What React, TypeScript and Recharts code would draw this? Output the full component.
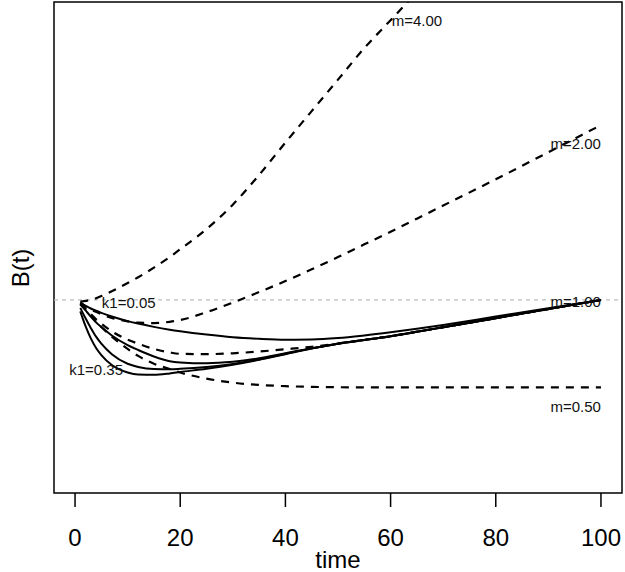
import { LineChart, Line, XAxis, YAxis, ReferenceLine, ReferenceArea, ReferenceDot } from "recharts";

const times = [1, 2, 3, 4, 5, 7, 10, 12, 15, 18, 20, 25, 30, 35, 40, 45, 50, 55, 60, 65, 70, 80, 90, 100];

// solid curves, m = 1, different k1
const k1_005 = [0.983, 0.966, 0.951, 0.938, 0.926, 0.905, 0.879, 0.865, 0.846, 0.83, 0.821, 0.802, 0.787, 0.778, 0.773, 0.774, 0.782, 0.797, 0.815, 0.835, 0.857, 0.905, 0.953, 1.0];
const k1_015 = [0.975, 0.94, 0.905, 0.872, 0.845, 0.797, 0.742, 0.714, 0.677, 0.65, 0.643, 0.638, 0.646, 0.666, 0.695, 0.724, 0.75, 0.771, 0.793, 0.818, 0.844, 0.896, 0.948, 1.0];
const k1_025 = [0.955, 0.895, 0.84, 0.79, 0.75, 0.69, 0.635, 0.617, 0.605, 0.604, 0.606, 0.616, 0.634, 0.66, 0.692, 0.723, 0.75, 0.771, 0.793, 0.818, 0.844, 0.896, 0.948, 1.0];
const k1_035 = [0.935, 0.85, 0.78, 0.725, 0.685, 0.628, 0.585, 0.573, 0.572, 0.58, 0.588, 0.607, 0.63, 0.658, 0.69, 0.722, 0.75, 0.771, 0.793, 0.818, 0.844, 0.896, 0.948, 1.0];

// dashed curves, different m
const m050 = [0.975, 0.945, 0.91, 0.875, 0.845, 0.79, 0.72, 0.68, 0.635, 0.605, 0.585, 0.55, 0.527, 0.514, 0.507, 0.503, 0.501, 0.5, 0.5, 0.5, 0.5, 0.5, 0.5, 0.5];
const m100 = [0.978, 0.95, 0.92, 0.89, 0.865, 0.82, 0.773, 0.75, 0.72, 0.7, 0.692, 0.69, 0.695, 0.705, 0.718, 0.732, 0.75, 0.771, 0.793, 0.818, 0.844, 0.896, 0.948, 1.0];
const m200 = [0.985, 0.965, 0.947, 0.932, 0.918, 0.897, 0.878, 0.87, 0.868, 0.875, 0.885, 0.93, 0.985, 1.045, 1.108, 1.175, 1.245, 1.318, 1.39, 1.465, 1.54, 1.69, 1.845, 2.0];
const m400 = [0.99, 0.995, 1.0, 1.01, 1.022, 1.05, 1.097, 1.13, 1.185, 1.245, 1.29, 1.405, 1.545, 1.715, 1.9, 2.08, 2.26, 2.44, 2.6, 2.76, null, null, null, null];

const xTicks = [0, 20, 40, 60, 80, 100];

const notes = [
  { text: "m=4.00", t: 69.8, v: 2.6, anchor: "end" },
  { text: "m=2.00", t: 100, v: 1.894, anchor: "end" },
  { text: "m=1.00", t: 100, v: 0.994, anchor: "end" },
  { text: "m=0.50", t: 100, v: 0.393, anchor: "end" },
  { text: "k1=0.05", t: 5.1, v: 0.983, anchor: "start" },
  { text: "k1=0.35", t: -1.1, v: 0.605, anchor: "start" },
];

const rows = times.map((t, i) => ({
  t,
  a: k1_005[i],
  b: k1_015[i],
  c: k1_025[i],
  d: k1_035[i],
  h: m050[i],
  one: m100[i],
  two: m200[i],
  four: m400[i],
}));

const font = "'Liberation Sans', Arial, Helvetica, sans-serif";
const dash = "8 7";

export default function App() {
  return (
    <div style={{ position: "absolute", left: 0, top: 0, background: "#fff", fontFamily: font }}>
      <LineChart width={625} height={572} data={rows} margin={{ top: 2, right: 3, bottom: 0, left: 0 }}>
        <XAxis
          type="number"
          dataKey="t"
          domain={[-4, 104]}
          ticks={xTicks}
          allowDataOverflow
          height={79}
          axisLine={false}
          tickSize={14}
          tickMargin={22}
          tickLine={{ stroke: "#000", strokeWidth: 1.5 }}
          tick={{ fill: "#000", fontSize: 24, fontFamily: font }}
          label={({ viewBox }: any) => (
            <text x={viewBox.x + viewBox.width / 2} y={viewBox.y + 75} textAnchor="middle" fontSize={24} fontFamily={font} fill="#000">
              time
            </text>
          )}
        />
        <YAxis
          type="number"
          domain={[-0.104, 2.704]}
          allowDataOverflow
          width={54}
          tick={false}
          axisLine={false}
          tickLine={false}
          label={() => {
            const cx = 20;
            const cy = 268;
            return (
              <text x={cx} y={cy} transform={`rotate(-90 ${cx} ${cy})`} textAnchor="middle" dominantBaseline="central" fontSize={24} fontFamily={font} fill="#000">
                B(t)
              </text>
            );
          }}
        />
        <ReferenceLine y={1} stroke="#bdbdbd" strokeWidth={1.2} strokeDasharray="4 4" />
        <ReferenceArea x1={-4} x2={104} y1={-0.104} y2={2.704} fill="none" stroke="#000" strokeWidth={1.5} />

        <Line dataKey="four" stroke="#000" strokeWidth={2.2} strokeDasharray={dash} dot={false} activeDot={false} type="monotone" isAnimationActive={false} />
        <Line dataKey="two" stroke="#000" strokeWidth={2.2} strokeDasharray={dash} dot={false} activeDot={false} type="monotone" isAnimationActive={false} />
        <Line dataKey="one" stroke="#000" strokeWidth={2.2} strokeDasharray={dash} dot={false} activeDot={false} type="monotone" isAnimationActive={false} />
        <Line dataKey="h" stroke="#000" strokeWidth={2.2} strokeDasharray={dash} dot={false} activeDot={false} type="monotone" isAnimationActive={false} />

        <Line dataKey="a" stroke="#000" strokeWidth={2} dot={false} activeDot={false} type="monotone" isAnimationActive={false} />
        <Line dataKey="b" stroke="#000" strokeWidth={2} dot={false} activeDot={false} type="monotone" isAnimationActive={false} />
        <Line dataKey="c" stroke="#000" strokeWidth={2} dot={false} activeDot={false} type="monotone" isAnimationActive={false} />
        <Line dataKey="d" stroke="#000" strokeWidth={2} dot={false} activeDot={false} type="monotone" isAnimationActive={false} />

        {notes.map((n) => (
          <ReferenceDot
            key={n.text}
            x={n.t}
            y={n.v}
            r={0}
            ifOverflow="visible"
            shape={(p: any) => (
              <text x={p.cx} y={p.cy} textAnchor={n.anchor} dominantBaseline="central" fontSize={15} fontFamily={font} fill="#111">
                {n.text}
              </text>
            )}
          />
        ))}
      </LineChart>
    </div>
  );
}
